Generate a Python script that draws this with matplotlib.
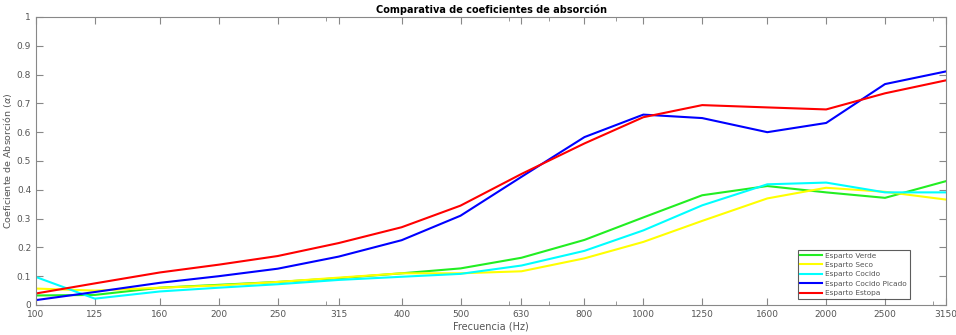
import matplotlib.pyplot as plt
from matplotlib.ticker import FixedLocator, NullFormatter, LogLocator

freqs = [100, 125, 160, 200, 250, 315, 400, 500, 630, 800, 1000, 1250, 1600, 2000, 2500, 3150]
freq_labels = [str(f) for f in freqs]

verde = [0.033, 0.035, 0.060, 0.070, 0.080, 0.093, 0.110, 0.127, 0.164, 0.226, 0.304, 0.381, 0.413, 0.391, 0.372, 0.430]
seco = [0.057, 0.050, 0.060, 0.068, 0.080, 0.095, 0.110, 0.110, 0.117, 0.162, 0.219, 0.292, 0.370, 0.407, 0.393, 0.366]
cocido = [0.097, 0.022, 0.047, 0.060, 0.072, 0.087, 0.098, 0.108, 0.137, 0.188, 0.259, 0.346, 0.419, 0.425, 0.391, 0.391]
picado = [0.017, 0.045, 0.077, 0.100, 0.126, 0.168, 0.225, 0.310, 0.445, 0.583, 0.661, 0.649, 0.600, 0.632, 0.767, 0.811]
estopa = [0.040, 0.075, 0.113, 0.140, 0.170, 0.215, 0.270, 0.345, 0.455, 0.561, 0.652, 0.694, 0.686, 0.679, 0.735, 0.780]

series = [
    ("Esparto Verde", verde, "#22ee22"),
    ("Esparto Seco", seco, "#ffff00"),
    ("Esparto Cocido", cocido, "#00ffff"),
    ("Esparto Cocido Picado", picado, "#0000ff"),
    ("Esparto Estopa", estopa, "#ff0000"),
]

fig = plt.figure(figsize=(9.56, 3.35), dpi=100)
ax = fig.add_axes([0.0377, 0.0896, 0.9518, 0.8597])

for name, vals, col in series:
    ax.plot(freqs, vals, color=col, lw=1.5, label=name)

ax.set_xscale("log")
ax.set_xlim(100, 3150)
ax.set_ylim(0, 1)
ax.xaxis.set_major_locator(FixedLocator(freqs))
ax.xaxis.set_ticklabels(freq_labels)
ax.xaxis.set_minor_locator(LogLocator(base=10, subs=range(1, 10)))
ax.xaxis.set_minor_formatter(NullFormatter())
ax.set_yticks([i / 10 for i in range(11)])
ax.set_yticklabels(["0"] + ["0.%d" % i for i in range(1, 10)] + ["1"])

grey = "#555555"
for s in ax.spines.values():
    s.set_color("#888888")
    s.set_linewidth(0.8)
ax.tick_params(which="both", direction="in", top=True, right=True, colors="#888888",
               labelcolor=grey, labelsize=6.5)
ax.tick_params(which="major", length=5)
ax.tick_params(which="minor", length=3)

ax.set_title("Comparativa de coeficientes de absorción", fontsize=7, fontweight="bold", pad=3)
ax.set_xlabel("Frecuencia (Hz)", fontsize=7, color=grey, labelpad=2)
ax.set_ylabel(r"Coeficiente de Absorción ($\alpha$)", fontsize=6.8, color=grey)
ax.yaxis.set_label_coords(-0.0245, 0.5)

leg = ax.legend(loc="lower right", fontsize=5.3, frameon=True, fancybox=False,
                handlelength=3.0, borderpad=0.35, labelspacing=0.45, handletextpad=0.4,
                bbox_to_anchor=(0.964, 0.008))
leg.get_frame().set_edgecolor("#333333")
leg.get_frame().set_linewidth(0.8)
for t in leg.get_texts():
    t.set_color(grey)

fig.savefig("out.png", dpi=100)
